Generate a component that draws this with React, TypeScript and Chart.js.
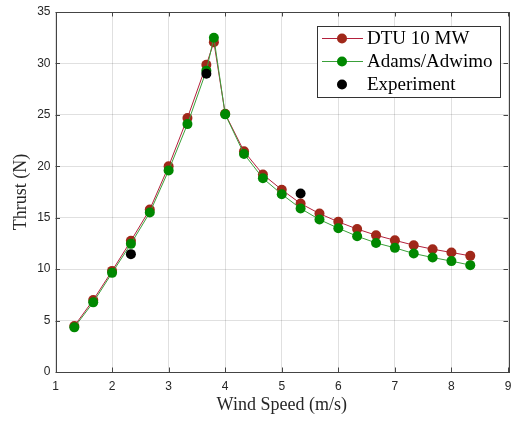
import React, { useEffect, useRef } from 'react';
import { Chart, registerables } from 'chart.js';
Chart.register(...registerables);

const windSpeed = [1.333, 1.667, 2, 2.333, 2.667, 3, 3.333, 3.667, 3.8, 4, 4.333, 4.667, 5, 5.333, 5.667, 6, 6.333, 6.667, 7, 7.333, 7.667, 8, 8.333];
const dtuThrust = [4.47, 7.0, 9.83, 12.75, 15.8, 20.0, 24.7, 29.87, 32.07, 25.1, 21.45, 19.2, 17.72, 16.38, 15.4, 14.6, 13.9, 13.3, 12.8, 12.33, 11.94, 11.62, 11.29];
const adamsThrust = [4.34, 6.77, 9.64, 12.46, 15.5, 19.6, 24.1, 29.3, 32.5, 25.05, 21.2, 18.83, 17.28, 15.9, 14.82, 13.98, 13.2, 12.55, 12.07, 11.52, 11.13, 10.78, 10.39];
const expWind = [2.333, 3.667, 5.333];
const expThrust = [11.46, 29.0, 17.35];
const seriesNames = ['DTU 10 MW', 'Adams/Adwimo', 'Experiment'];
const xTicks = [1, 2, 3, 4, 5, 6, 7, 8, 9];
const yTicks = [0, 5, 10, 15, 20, 25, 30, 35];

const RED_LINE = '#b3203c';
const RED_MARK = '#a0281a';
const GREEN_LINE = '#3aa03a';
const GREEN_MARK = '#008800';
const AXIS = '#444444';

const boxPlugin = {
  id: 'boxTicks',
  beforeDatasetsDraw(chart: any) {
    const { ctx, chartArea: a, scales } = chart;
    ctx.save();
    ctx.strokeStyle = AXIS;
    ctx.lineWidth = 1;
    const L = 4.5;
    ctx.beginPath();
    xTicks.forEach((v) => {
      const px = Math.round(scales.x.getPixelForValue(v)) + 0.5;
      ctx.moveTo(px, a.bottom);
      ctx.lineTo(px, a.bottom - L);
      ctx.moveTo(px, a.top);
      ctx.lineTo(px, a.top + L);
    });
    yTicks.forEach((v) => {
      const py = Math.round(scales.y.getPixelForValue(v)) + 0.5;
      ctx.moveTo(a.left, py);
      ctx.lineTo(a.left + L, py);
      ctx.moveTo(a.right, py);
      ctx.lineTo(a.right - L, py);
    });
    ctx.stroke();
    ctx.strokeRect(Math.round(a.left) + 0.5, Math.round(a.top) + 0.5, Math.round(a.right - a.left), Math.round(a.bottom - a.top));
    ctx.restore();
  },
};

const legendPlugin = {
  id: 'customLegend',
  afterDraw(chart: any) {
    const { ctx } = chart;
    ctx.save();
    const bx = 317.5, by = 26.5, bw = 183, bh = 71;
    ctx.fillStyle = '#ffffff';
    ctx.fillRect(bx, by, bw, bh);
    ctx.strokeStyle = '#333333';
    ctx.lineWidth = 1;
    ctx.strokeRect(bx, by, bw, bh);
    const rows = [
      { name: seriesNames[0], line: RED_LINE, mark: RED_MARK },
      { name: seriesNames[1], line: GREEN_LINE, mark: GREEN_MARK },
      { name: seriesNames[2], line: null, mark: '#000000' },
    ];
    ctx.font = '19px "Liberation Serif"';
    ctx.textBaseline = 'middle';
    rows.forEach((r, i) => {
      const y = 38.5 + i * 23;
      if (r.line) {
        ctx.strokeStyle = r.line;
        ctx.beginPath();
        ctx.moveTo(322, y);
        ctx.lineTo(363, y);
        ctx.stroke();
      }
      ctx.fillStyle = r.mark;
      ctx.beginPath();
      ctx.arc(342, y, 5, 0, Math.PI * 2);
      ctx.fill();
      ctx.fillStyle = '#000000';
      ctx.fillText(r.name, 367, y + 1);
    });
    ctx.restore();
  },
};

export default function App() {
  const ref = useRef<HTMLCanvasElement>(null);
  useEffect(() => {
    document.body.style.margin = '0';
    const toXY = (xs: number[], ys: number[]) => xs.map((x, i) => ({ x, y: ys[i] }));
    const chart = new Chart(ref.current!, {
      type: 'line',
      data: {
        datasets: [
          {
            label: seriesNames[0],
            data: toXY(windSpeed, dtuThrust),
            borderColor: RED_LINE,
            backgroundColor: RED_MARK,
            pointBackgroundColor: RED_MARK,
            pointBorderColor: RED_MARK,
            pointRadius: 5,
            pointBorderWidth: 0,
            borderWidth: 1,
            order: 3,
          },
          {
            label: seriesNames[1],
            data: toXY(windSpeed, adamsThrust),
            borderColor: GREEN_LINE,
            backgroundColor: GREEN_MARK,
            pointBackgroundColor: GREEN_MARK,
            pointBorderColor: GREEN_MARK,
            pointRadius: 5,
            pointBorderWidth: 0,
            borderWidth: 1,
            order: 2,
          },
          {
            label: seriesNames[2],
            data: toXY(expWind, expThrust),
            showLine: false,
            borderColor: '#000000',
            backgroundColor: '#000000',
            pointBackgroundColor: '#000000',
            pointRadius: 5,
            pointBorderWidth: 0,
            order: 1,
          },
        ],
      },
      options: {
        responsive: false,
        animation: false,
        layout: { padding: { top: 12, right: 4.5, left: 0, bottom: 0 } },
        plugins: { legend: { display: false }, tooltip: { enabled: false } },
        scales: {
          x: {
            type: 'linear',
            min: 1,
            max: 9,
            afterFit: (s: any) => { s.height = 50; s.paddingLeft = 0; s.paddingRight = 0; },
            afterBuildTicks: (s: any) => { s.ticks = xTicks.map((v) => ({ value: v })); },
            grid: { color: 'rgba(0,0,0,0.12)', drawTicks: false },
            border: { display: false },
            ticks: { padding: 7, color: '#262626', font: { family: '"Liberation Sans"', size: 12 } },
            title: {
              display: true,
              text: 'Wind Speed (m/s)',
              color: '#262626',
              font: { family: '"Liberation Serif"', size: 18 },
              padding: { top: 0, bottom: 6 },
            },
          },
          y: {
            type: 'linear',
            min: 0,
            max: 35,
            afterFit: (s: any) => { s.width = 55.5; s.paddingTop = 0; s.paddingBottom = 0; },
            afterBuildTicks: (s: any) => { s.ticks = yTicks.map((v) => ({ value: v })); },
            grid: { color: 'rgba(0,0,0,0.12)', drawTicks: false },
            border: { display: false },
            ticks: { padding: 5, color: '#262626', font: { family: '"Liberation Sans"', size: 12 } },
            title: {
              display: true,
              text: 'Thrust (N)',
              color: '#262626',
              font: { family: '"Liberation Serif"', size: 18 },
              padding: { top: 10, bottom: 0 },
            },
          },
        },
      },
      plugins: [boxPlugin, legendPlugin],
    } as any);
    return () => chart.destroy();
  }, []);
  return (
    <div style={{ width: 513, height: 422 }}>
      <canvas ref={ref} width={513} height={422} style={{ width: 513, height: 422, display: 'block' }} />
    </div>
  );
}
